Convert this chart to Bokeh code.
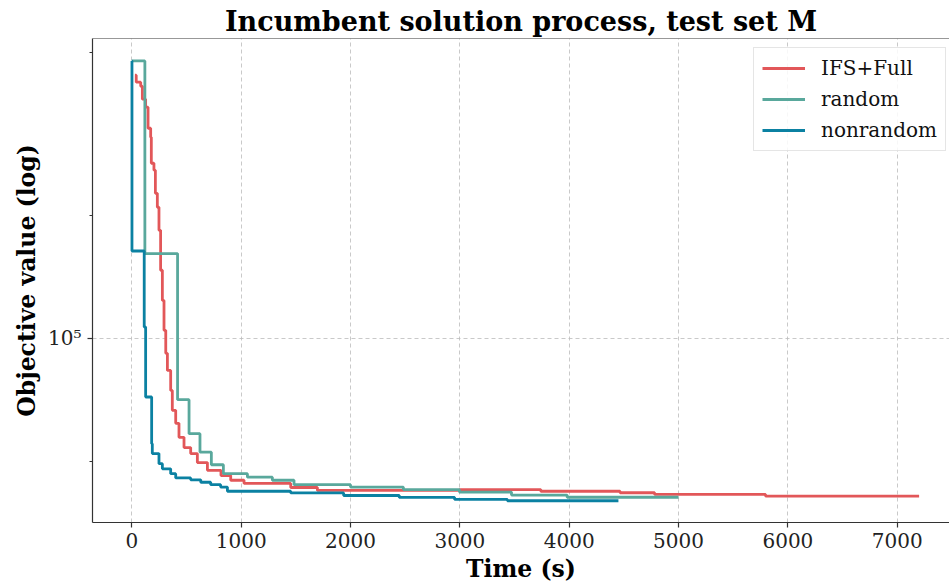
from bokeh.plotting import figure
from bokeh.models import (Range1d, FixedTicker, CustomJSTickFormatter, Span,
                          Legend, LegendItem)
from bokeh.embed import file_html
from bokeh.resources import INLINE

FONT = "DejaVu Serif"

# ---- data ----
series_names = ["IFS+Full", "random", "nonrandom"]
series_colors = ["#e25759", "#59a89c", "#0b81a2"]

t_ifs = [28, 40, 81, 96, 126, 148, 172, 178, 202, 215, 233, 248, 263, 279, 294,
         310, 325, 355, 370, 401, 431, 477, 538, 599, 691, 815, 904, 1026, 1453,
         1697, 2996, 3740, 4465, 4781, 5796, 7200]
v_ifs = [439500, 422700, 413100, 384100, 367200, 326200, 310100, 267900, 257600,
         226200, 209100, 183700, 146700, 123800, 104600, 91900, 83500, 74600,
         66700, 62000, 57300, 54100, 52300, 49700, 47600, 46200, 45000, 44200,
         43200, 42500, 42700, 42300, 41950, 41550, 41150, 41150]

t_random = [0, 119, 418, 523, 623, 727, 837, 1057, 1285, 1483, 2000, 2483, 2996,
            3472, 3981, 5000]
v_random = [476400, 161100, 70800, 58500, 52700, 49100, 46700, 45800, 45000,
            43900, 43300, 42700, 42100, 41400, 40900, 40900]

t_nonrandom = [0, 1, 113, 126, 181, 187, 248, 279, 355, 401, 538, 630, 721, 812,
               874, 1453, 1937, 2446, 2952, 3435, 4450]
v_nonrandom = [476400, 163500, 106600, 71900, 55300, 52300, 49400, 48000, 46700,
               45600, 45100, 44500, 43900, 43300, 42300, 41900, 41300, 40850,
               40400, 40100, 40100]

x_ticks = [0, 1000, 2000, 3000, 4000, 5000, 6000, 7000]
y_major = [100000]
y_minor = [20000, 50000, 200000, 500000]

x_lo, x_hi = -360, 7478
y_lo, y_hi = 35480, 540500

p = figure(width=949, height=588,
           x_range=Range1d(x_lo, x_hi), y_range=Range1d(y_lo, y_hi),
           y_axis_type="log", output_backend="svg", toolbar_location=None,
           min_border_left=92, min_border_right=0, min_border_top=38,
           min_border_bottom=66, background_fill_color="white",
           border_fill_color="white")

p.outline_line_color = None

p.title.text = "Incumbent solution process, test set M"
p.title.text_font = FONT
p.title.text_font_style = "bold"
p.title.text_font_size = "27px"
p.title.align = "center"
p.title.offset = 4
p.title.standoff = 4
p.title.text_color = "#000000"

AX = "#333333"
p.xaxis.ticker = FixedTicker(ticks=x_ticks, minor_ticks=[])
p.xaxis.axis_label = "Time (s)"
yt = FixedTicker(ticks=y_major, minor_ticks=y_minor)
p.yaxis.ticker = yt
p.yaxis.formatter = CustomJSTickFormatter(code="return tick == 100000 ? '10\u2075' : '';")
p.yaxis.axis_label = "Objective value (log)"

for ax in (p.xaxis[0], p.yaxis[0]):
    ax.axis_line_color = AX
    ax.axis_line_width = 1.2
    ax.major_tick_line_color = AX
    ax.major_tick_line_width = 1.2
    ax.major_tick_out = 5
    ax.major_tick_in = 0
    ax.minor_tick_line_color = AX
    ax.minor_tick_line_width = 1
    ax.minor_tick_out = 3
    ax.minor_tick_in = 0
    ax.major_label_text_font = FONT
    ax.major_label_text_font_size = "20px"
    ax.major_label_text_color = "#222222"
    ax.axis_label_text_font = FONT
    ax.axis_label_text_font_style = "bold"
    ax.axis_label_text_font_size = "23.5px"
    ax.axis_label_text_color = "#000000"
p.xaxis.major_label_standoff = 5
p.yaxis.major_label_standoff = 6
p.xaxis.axis_label_standoff = 4
p.yaxis.axis_label_standoff = 4

p.xgrid.ticker = FixedTicker(ticks=x_ticks)
p.ygrid.ticker = FixedTicker(ticks=y_major)
for g in (p.xgrid[0], p.ygrid[0]):
    g.grid_line_color = "#bbbbbb"
    g.grid_line_alpha = 0.8
    g.grid_line_dash = "4 3"
    g.grid_line_width = 1

# top spine
p.add_layout(Span(location=y_hi, dimension="width", line_color=AX, line_width=1.2))

renderers = []
for ts, vs, c in zip([t_ifs, t_random, t_nonrandom],
                     [v_ifs, v_random, v_nonrandom], series_colors):
    r = p.step(ts, vs, mode="after", line_color=c, line_width=2.8)
    renderers.append(r)

legend = Legend(items=[LegendItem(label=n, renderers=[r])
                       for n, r in zip(series_names, renderers)],
                location=(661, 371))
legend.label_text_font = FONT
legend.label_text_font_size = "20px"
legend.label_text_color = "#111111"
legend.glyph_width = 43
legend.glyph_height = 20
legend.label_height = 20
legend.label_standoff = 16
legend.spacing = 7
legend.padding = 8
legend.margin = 0
legend.border_line_color = "#cccccc"
legend.border_line_width = 1
legend.background_fill_alpha = 0.85
p.add_layout(legend)

open("out.html", "w").write(file_html(p, INLINE))
